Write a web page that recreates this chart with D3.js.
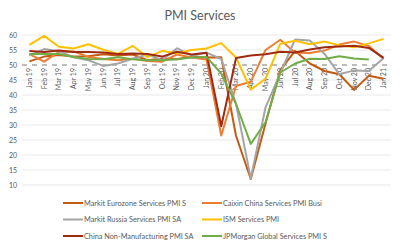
<!DOCTYPE html>
<html>
<head>
<meta charset="utf-8">
<script src="https://cdn.jsdelivr.net/npm/d3@7/dist/d3.min.js"></script>
<style>
  body { margin: 0; background: #fff; }
  svg { font-family: Lato, "Open Sans", sans-serif; }
</style>
</head>
<body>
<div id="chart"></div>
<script>
// ---- data ----
const months = ["Jan 19","Feb 19","Mar 19","Apr 19","May 19","Jun 19","Jul 19","Aug 19","Sep 19","Oct 19","Nov 19","Dec 19",
  "Jan 20","Feb 20","Mar 20","Apr 20","May 20","Jun 20","Jul 20","Aug 20","Sep 20","Oct 20","Nov 20","Dec 20","Jan 21"];

const eurozone  = [51.2,52.8,53.3,52.8,52.9,53.6,53.2,53.5,51.6,52.2,51.9,52.8,52.5,52.6,26.4,12.0,30.5,48.3,54.7,50.5,48.0,46.9,41.7,46.4,45.4];
const caixin    = [53.6,51.1,54.4,54.5,52.7,52.0,51.6,52.1,51.3,51.1,53.5,52.5,51.8,26.5,43.0,44.4,55.0,58.4,54.1,54.0,54.8,56.8,57.8,56.3,52.0];
const russia    = [53.1,55.3,54.6,52.6,51.6,49.7,50.5,52.1,53.5,51.6,55.6,53.1,54.1,52.0,37.1,12.2,35.9,47.3,58.5,58.2,53.7,46.9,48.2,48.0,52.3];
const ism       = [56.7,59.7,56.1,55.5,56.9,55.1,53.7,56.4,52.6,54.7,53.9,55.0,55.5,57.3,52.5,41.8,45.4,57.1,58.1,56.9,57.8,56.6,55.9,57.2,58.7];
const chinaNM   = [54.7,54.3,54.8,54.3,54.3,54.2,53.7,53.8,53.7,52.8,54.4,53.5,54.1,29.6,52.3,53.2,53.6,54.4,54.2,55.2,55.9,56.2,56.4,55.7,52.4];
const jpmGlobal = [53.7,53.7,53.7,52.7,52.0,51.9,52.6,51.9,51.6,51.6,51.9,52.5,52.7,47.1,37.0,23.7,30.9,47.5,50.5,52.1,52.0,52.9,52.2,51.8,null];

const yTicks = [10,15,20,25,30,35,40,45,50,55,60];

const series = [
  { name: "Markit Eurozone Services PMI S",  values: eurozone,  color: "#c55a11" },
  { name: "Caixin China Services PMI Busi",  values: caixin,    color: "#ed7d31" },
  { name: "Markit Russia Services PMI SA",   values: russia,    color: "#a5a5a5" },
  { name: "ISM Services PMI",                values: ism,       color: "#ffc000" },
  { name: "China Non-Manufacturing PMI SA",  values: chinaNM,   color: "#9e2a12" },
  { name: "JPMorgan Global Services PMI S",  values: jpmGlobal, color: "#70ad47" }
];

// ---- svg ----
const W = 400, H = 249;
const svg = d3.select("#chart").append("svg")
  .attr("width", W).attr("height", H);

svg.append("text")
  .attr("x", 200).attr("y", 20)
  .attr("text-anchor", "middle")
  .style("font-size", "12.5px")
  .attr("fill", "#595959")
  .text("PMI Services");

// ---- scales ----
const x = d3.scaleBand().domain(months).range([22, 391]);
const y = d3.scaleLinear().domain([10, 60]).range([185, 35]);

// gridlines
svg.append("g")
  .selectAll("line")
  .data(yTicks.filter(d => d !== 50))
  .join("line")
  .attr("x1", 22).attr("x2", 391)
  .attr("y1", d => y(d)).attr("y2", d => y(d))
  .attr("stroke", "#e3e3e3").attr("stroke-width", 0.8);

// y axis labels
const yAxis = svg.append("g")
  .attr("transform", "translate(22,0)")
  .call(d3.axisLeft(y).tickValues(yTicks).tickSize(0).tickPadding(5));
yAxis.select(".domain").remove();
yAxis.selectAll("text").style("font-size", "7px").attr("fill", "#595959")
  .style("font-family", "Lato, sans-serif");

// dashed axis at 50
svg.append("line")
  .attr("x1", 22).attr("x2", 391)
  .attr("y1", y(50)).attr("y2", y(50))
  .attr("stroke", "#a6a6a6").attr("stroke-width", 1.6)
  .attr("stroke-dasharray", "5,5");

// x labels, rotated
const xAxis = svg.append("g")
  .attr("transform", `translate(0,${y(50)})`)
  .call(d3.axisBottom(x).tickSize(0).tickPadding(0));
xAxis.select(".domain").remove();
xAxis.selectAll("text")
  .attr("transform", "rotate(-90)")
  .attr("x", -3).attr("y", 0).attr("dy", "0.35em")
  .attr("text-anchor", "end")
  .style("font-size", "7px")
  .style("font-family", "Lato, sans-serif")
  .attr("fill", "#595959");

// ---- lines ----
const line = d3.line()
  .defined(d => d != null)
  .x((d, i) => x(months[i]) + x.bandwidth() / 2)
  .y(d => y(d));

svg.append("g")
  .selectAll("path")
  .data(series)
  .join("path")
  .attr("fill", "none")
  .attr("stroke", d => d.color)
  .attr("stroke-width", 2)
  .attr("stroke-linejoin", "round")
  .attr("d", d => line(d.values));

// ---- legend ----
const legend = svg.append("g")
  .selectAll("g")
  .data(series)
  .join("g")
  .attr("transform", (d, i) => `translate(${i % 2 === 0 ? 63 : 202},${203 + Math.floor(i / 2) * 16.5})`);

legend.append("line")
  .attr("x1", 0).attr("x2", 20)
  .attr("stroke", d => d.color).attr("stroke-width", 2);

legend.append("text")
  .attr("x", 21).attr("dy", "0.35em")
  .style("font-size", "7.3px")
  .attr("fill", "#595959")
  .text(d => d.name);
</script>
</body>
</html>
